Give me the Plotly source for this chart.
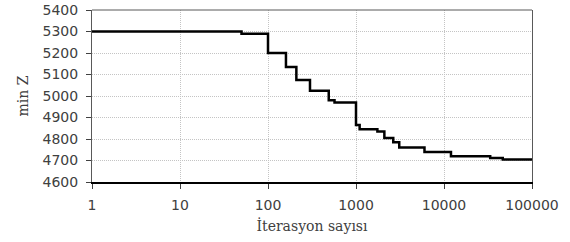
import plotly.graph_objects as go

iterations = [1, 50, 100, 160, 210, 300, 490, 570, 1000, 1100, 1750, 2100, 2650, 3100, 6000, 12000, 33500, 46500, 100000]
min_z = [5300, 5290, 5200, 5135, 5075, 5025, 4980, 4970, 4865, 4845, 4835, 4805, 4785, 4760, 4740, 4720, 4712, 4705, 4705]

x_tick_vals = [1, 10, 100, 1000, 10000, 100000]
x_tick_text = ["1", "10", "100", "1000", "10000", "100000"]
y_tick_vals = [4600, 4700, 4800, 4900, 5000, 5100, 5200, 5300, 5400]

fig = go.Figure()
fig.add_trace(go.Scatter(
    x=iterations, y=min_z, mode="lines",
    line=dict(color="black", width=2.5, shape="hv"),
    showlegend=False,
))

fig.update_layout(
    width=570, height=242,
    margin=dict(l=92, r=38, t=10, b=60),
    paper_bgcolor="white", plot_bgcolor="white",
    font=dict(family="DejaVu Sans", size=14, color="#404040"),
    shapes=[dict(type="line", xref="paper", yref="paper", x0=0, x1=1, y0=1, y1=1,
                 line=dict(color="#595959", width=1))],
)
fig.update_xaxes(
    type="log", range=[0, 5], automargin=False,
    tickvals=x_tick_vals, ticktext=x_tick_text,
    showgrid=True, gridcolor="#c4c4c4", griddash="1px,1px", gridwidth=1,
    showline=True, linecolor="#000000", linewidth=1.5, mirror=False,
    ticks="outside", ticklen=5, tickcolor="#404040", ticklabelstandoff=4,
    title=dict(text="İterasyon sayısı", font=dict(family="DejaVu Serif", size=14, color="#404040"), standoff=10),
    zeroline=False,
)
fig.update_yaxes(
    range=[4600, 5400], automargin=False,
    tickvals=y_tick_vals,
    showgrid=True, gridcolor="#c4c4c4", griddash="1px,1px", gridwidth=1,
    showline=True, linecolor="#595959", linewidth=1, mirror=True,
    ticks="outside", ticklen=5, tickcolor="#404040", ticklabelstandoff=5,
    title=dict(text="min Z", font=dict(family="DejaVu Serif", size=14, color="#404040"), standoff=10),
    zeroline=False,
)

fig.write_html("out.html", config={"displayModeBar": False},
               post_script="document.body.style.margin='0';document.body.style.padding='0';")
